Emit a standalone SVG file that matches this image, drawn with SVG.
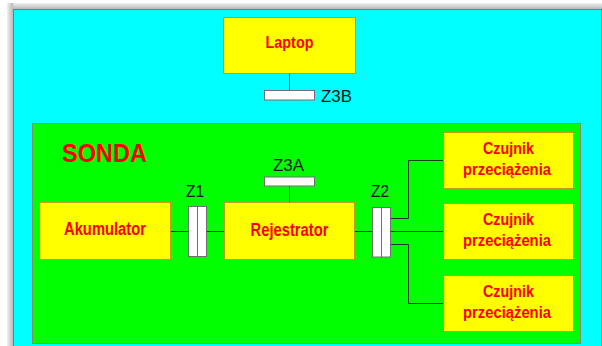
<svg xmlns="http://www.w3.org/2000/svg" width="602" height="346" viewBox="0 0 602 346">
<defs>
<linearGradient id="gt" x1="0" y1="0" x2="0" y2="1"><stop offset="0" stop-color="#f0f0f0"/><stop offset="1" stop-color="#b8b8b8"/></linearGradient>
<linearGradient id="gl" x1="0" y1="0" x2="1" y2="0"><stop offset="0" stop-color="#f0f0f0"/><stop offset="1" stop-color="#b8b8b8"/></linearGradient>
</defs>
<style>
.box{fill:#ffff00;stroke:#c89a10;stroke-width:1}
.t{font-family:"Liberation Sans",Arial,sans-serif;font-weight:bold;fill:#ff0000;font-size:16.5px;text-anchor:middle}
.tl{font-size:17.5px}
.z{font-family:"Liberation Sans",Arial,sans-serif;fill:#0a1a1a;font-size:16px}
.conn{fill:#ffffff;stroke:#707070;stroke-width:1}
.ln{fill:none;stroke:#1e3a1e;stroke-width:1}
</style>
<rect x="0" y="0" width="602" height="346" fill="#ffffff"/>
<rect x="8" y="3" width="594" height="6" fill="url(#gt)"/>
<rect x="7" y="3" width="6" height="343" fill="url(#gl)"/>
<rect x="13.5" y="9.5" width="588" height="340" fill="#00ffff" stroke="#2a9a9a" stroke-width="1"/>
<g id="sonda">
<rect x="32.5" y="123.5" width="548" height="220" fill="#00ff00" stroke="#8a8a6a" stroke-width="1"/>
<text x="62" y="162" style="font-family:'Liberation Sans',Arial,sans-serif;font-weight:bold;font-size:26.5px;fill:#ff0000" textLength="85" lengthAdjust="spacingAndGlyphs">SONDA</text>
</g>
<g id="connectors">
<path class="ln" d="M289.5 73 V91"/>
<path class="ln" d="M289.5 186 V202"/>
<path class="ln" d="M171 231.5 H188"/>
<path class="ln" d="M207 231.5 H224"/>
<path class="ln" d="M355 231.5 H372"/>
<path class="ln" d="M391 218.5 H408.5 V160.5 H443"/>
<path class="ln" d="M391 231.5 H443"/>
<path class="ln" d="M391 244.5 H408.5 V303.5 H443"/>
</g>
<g id="laptop">
<rect class="box" x="223.5" y="17.5" width="132" height="56"/>
<text class="t" x="289.5" y="48" textLength="48" lengthAdjust="spacingAndGlyphs">Laptop</text>
</g>
<g id="z3b">
<rect class="conn" x="264.5" y="90.5" width="50" height="9.5"/>
<text class="z" x="321" y="102" textLength="31" lengthAdjust="spacingAndGlyphs">Z3B</text>
</g>
<g id="akumulator">
<rect class="box" x="39.5" y="202.5" width="131" height="57"/>
<text class="t tl" x="105" y="235" textLength="82" lengthAdjust="spacingAndGlyphs">Akumulator</text>
</g>
<g id="z1">
<rect class="conn" x="188.5" y="206.5" width="9" height="50"/>
<rect class="conn" x="197.5" y="206.5" width="9" height="50"/>
<text class="z" x="186" y="197" textLength="18" lengthAdjust="spacingAndGlyphs">Z1</text>
</g>
<g id="rejestrator">
<rect class="box" x="224.5" y="202.5" width="130" height="57"/>
<text class="t tl" x="289.5" y="236" textLength="78" lengthAdjust="spacingAndGlyphs">Rejestrator</text>
</g>
<g id="z3a">
<rect class="conn" x="264.5" y="177" width="50" height="9"/>
<text class="z" x="273" y="171" textLength="31" lengthAdjust="spacingAndGlyphs">Z3A</text>
</g>
<g id="z2">
<rect class="conn" x="372.5" y="207.5" width="9" height="49.5"/>
<rect class="conn" x="381.5" y="207.5" width="9" height="49.5"/>
<text class="z" x="371" y="197" textLength="18" lengthAdjust="spacingAndGlyphs">Z2</text>
</g>
<g id="czujnik1">
<rect class="box" x="443.5" y="132.5" width="130" height="56"/>
<text class="t" x="508.5" y="154" textLength="51" lengthAdjust="spacingAndGlyphs">Czujnik</text>
<text class="t" x="507" y="175" textLength="88" lengthAdjust="spacingAndGlyphs">przeciążenia</text>
</g>
<g id="czujnik2">
<rect class="box" x="443.5" y="203.5" width="130" height="56"/>
<text class="t" x="508.5" y="225" textLength="51" lengthAdjust="spacingAndGlyphs">Czujnik</text>
<text class="t" x="507" y="246" textLength="88" lengthAdjust="spacingAndGlyphs">przeciążenia</text>
</g>
<g id="czujnik3">
<rect class="box" x="443.5" y="275.5" width="130" height="56"/>
<text class="t" x="508.5" y="297" textLength="51" lengthAdjust="spacingAndGlyphs">Czujnik</text>
<text class="t" x="507" y="318" textLength="88" lengthAdjust="spacingAndGlyphs">przeciążenia</text>
</g>
</svg>
